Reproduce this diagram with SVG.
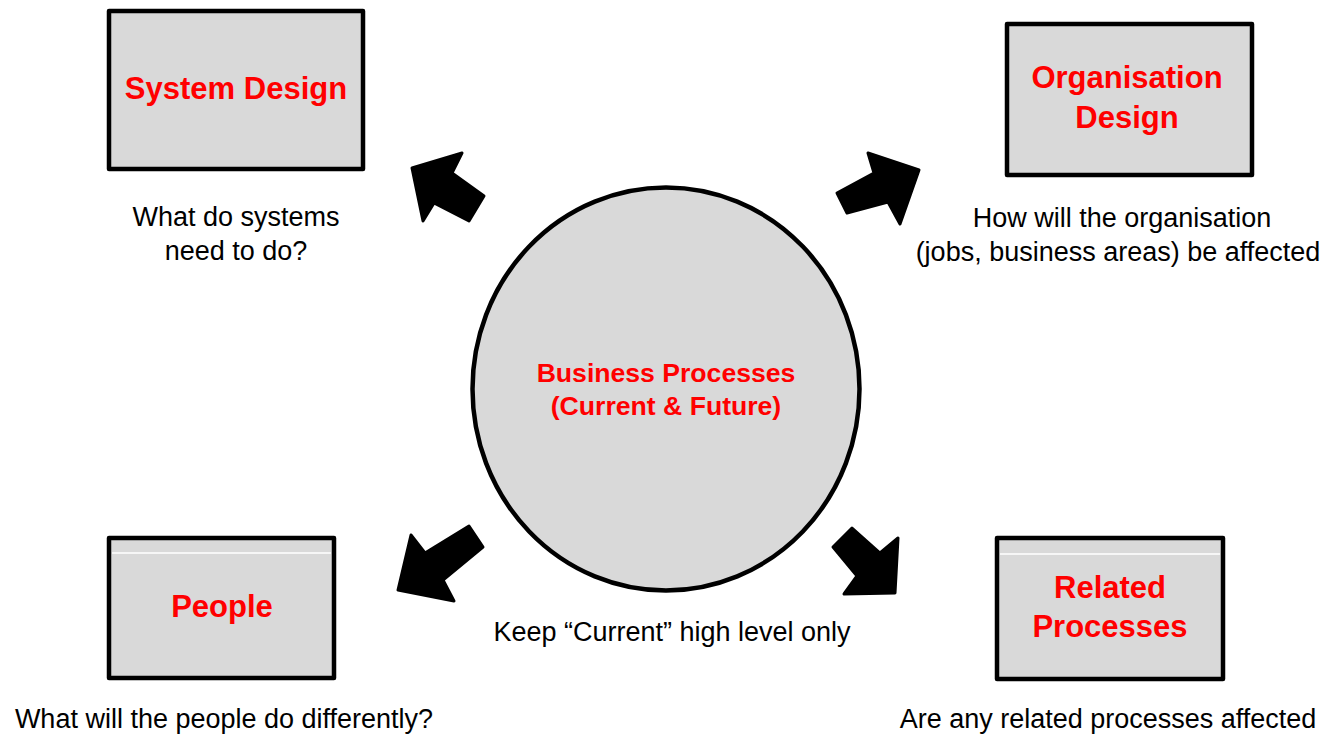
<svg xmlns="http://www.w3.org/2000/svg" width="1326" height="737" viewBox="0 0 1326 737">
<style>
.box{fill:#d9d9d9;stroke:#000;stroke-width:4.5;stroke-linejoin:round}
.sep{stroke:#fff;stroke-width:1.5}
.title{font-family:"Liberation Sans",Arial,sans-serif;font-weight:bold;font-size:31px;fill:#ff0000;text-anchor:middle}
.ctitle{font-family:"Liberation Sans",Arial,sans-serif;font-weight:bold;font-size:26.6px;fill:#ff0000;text-anchor:middle}
.note{font-family:"Liberation Sans",Arial,sans-serif;font-size:27px;fill:#000;text-anchor:middle}
.arrow{fill:#000;stroke:#000;stroke-width:3;stroke-linejoin:round}
</style>
<rect width="1326" height="737" fill="#fff"/>
<g id="connectors">
<polygon class="arrow" points="412,168 462,153 452,173 484,196 469,221 434,203 423,221"/>
<polygon class="arrow" points="919,170 868,153 874,173 837,193 847,213 888,202 900,224"/>
<polygon class="arrow" points="398,590 411,535 425,553 469,526 483,547 443,580 454,601"/>
<polygon class="arrow" points="895,593 898,538 880,553 852,528 833,547 857,576 844,594"/>
</g>
<g id="business-processes">
<ellipse class="box" cx="666" cy="389" rx="193.5" ry="201.5"/>
<text class="ctitle" x="666" y="382">Business Processes</text>
<text class="ctitle" x="666" y="415">(Current &amp; Future)</text>
</g>
<g id="system-design">
<rect class="box" x="109" y="11" width="254" height="158"/>
<text class="title" x="236" y="99">System Design</text>
<text class="note" x="236" y="226">What do systems</text>
<text class="note" x="236" y="260">need to do?</text>
</g>
<g id="organisation-design">
<rect class="box" x="1007" y="24" width="245" height="151"/>
<text class="title" x="1127" y="88">Organisation</text>
<text class="title" x="1127" y="128">Design</text>
<text class="note" x="1122" y="227">How will the organisation</text>
<text class="note" x="1118" y="261">(jobs, business areas) be affected</text>
</g>
<g id="people">
<rect class="box" x="109" y="538" width="225" height="140"/>
<line class="sep" x1="112" y1="553" x2="331" y2="553"/>
<text class="title" x="222" y="617">People</text>
<text class="note" x="224" y="728">What will the people do differently?</text>
</g>
<g id="related-processes">
<rect class="box" x="997" y="538" width="226" height="141"/>
<line class="sep" x1="1000" y1="554" x2="1220" y2="554"/>
<text class="title" x="1110" y="598">Related</text>
<text class="title" x="1110" y="637">Processes</text>
<text class="note" x="1108" y="728">Are any related processes affected</text>
</g>
<text class="note" x="672" y="641">Keep “Current” high level only</text>
</svg>
